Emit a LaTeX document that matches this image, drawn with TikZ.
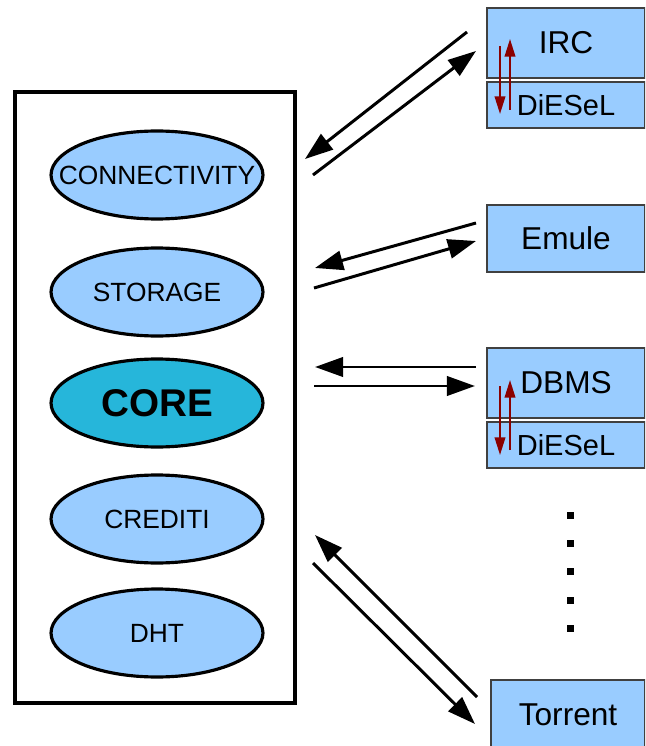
\documentclass[tikz,border=0pt]{standalone}
\usepackage{fontspec}
\setmainfont{Liberation Sans}
\usetikzlibrary{shapes.geometric,arrows.meta}

\definecolor{modblue}{RGB}{153,204,255}
\definecolor{coreblue}{RGB}{38,182,218}
\definecolor{linkred}{RGB}{139,0,0}
\newcommand{\modname}[1]{\makebox[0pt]{#1}}

\begin{document}
\begin{tikzpicture}[x=0.02cm,y=-0.02cm,
        module/.style={ellipse, draw, line width=1.8pt, fill=modblue,
                minimum width=4.24cm, minimum height=1.76cm, inner sep=0pt,
                font=\fontsize{15}{17}\selectfont},
        app/.style={rectangle, draw=black!75, line width=0.8pt, fill=modblue,
                minimum width=3.16cm, inner sep=0pt,
                font=\fontsize{18}{20}\selectfont},
        layer/.style={app, minimum height=0.92cm, font=\fontsize{16.5}{18}\selectfont},
        flow/.style={line width=1.7pt, -{Triangle[length=16pt,width=11pt]}},
        link/.style={linkred, line width=1.1pt, -{Triangle[length=10pt,width=6pt]}}]
        \clip (0,0) rectangle (645,746);
        % Draw the node container
        \draw [line width=2pt] (15,92) rectangle (295,703);
        \node [module] (conn) at (157,175) {\modname{CONNECTIVITY}};
        \node [module] (stor) at (157,292) {\modname{STORAGE}};
        \node [module, fill=coreblue, font=\bfseries\fontsize{22}{24}\selectfont]
                (core) at (157,403) {\modname{CORE}};
        \node [module] (cred) at (157,519) {\modname{CREDITI}};
        \node [module] (dht) at (157,633) {\modname{DHT}};
        % Applications
        \node [app, minimum height=1.4cm] (irc) at (566,43) {IRC};
        \node [layer] (dsla) at (566,105) {DiESeL};
        \node [app, minimum height=1.34cm] (emule) at (566,238.5) {Emule};
        \node [app, minimum height=1.4cm] (dbms) at (566,383) {DBMS};
        \node [layer] (dslb) at (566,445) {DiESeL};
        \node [app, minimum width=3.08cm, minimum height=1.4cm] (torrent) at (568,715) {Torrent};
        \foreach \y in {515,543,571,600,628}
                \fill (567,\y-3.5) rectangle ++(7,7);
        % DiESeL links
        \coordinate (ircdn) at (500,46);
        \coordinate (ircdnend) at (500,114);
        \coordinate (ircup) at (510,110);
        \coordinate (ircupend) at (510,39);
        \coordinate (dbmsdn) at (500,386);
        \coordinate (dbmsdnend) at (500,455);
        \coordinate (dbmsup) at (510,450);
        \coordinate (dbmsupend) at (510,380);
        \draw [link] (ircdn) -- (ircdnend);
        \draw [link] (ircup) -- (ircupend);
        \draw [link] (dbmsdn) -- (dbmsdnend);
        \draw [link] (dbmsup) -- (dbmsupend);
        % Message flows
        \coordinate (ircin) at (467,32);
        \coordinate (ircinend) at (305,159);
        \coordinate (ircout) at (313,175);
        \coordinate (ircoutend) at (476,51);
        \coordinate (emin) at (476,223);
        \coordinate (eminend) at (315,268);
        \coordinate (emout) at (314,288);
        \coordinate (emoutend) at (476,241);
        \coordinate (dbin) at (476,367);
        \coordinate (dbinend) at (315,367);
        \coordinate (dbout) at (314,386);
        \coordinate (dboutend) at (475,386);
        \coordinate (tin) at (477,697);
        \coordinate (tinend) at (315,535);
        \coordinate (tout) at (313,563);
        \coordinate (toutend) at (475,724);
        \draw [flow] (ircin) -- (ircinend);
        \draw [flow] (ircout) -- (ircoutend);
        \draw [flow] (emin) -- (eminend);
        \draw [flow] (emout) -- (emoutend);
        \draw [flow] (dbin) -- (dbinend);
        \draw [flow] (dbout) -- (dboutend);
        \draw [flow] (tin) -- (tinend);
        \draw [flow] (tout) -- (toutend);
\end{tikzpicture}
\end{document}
